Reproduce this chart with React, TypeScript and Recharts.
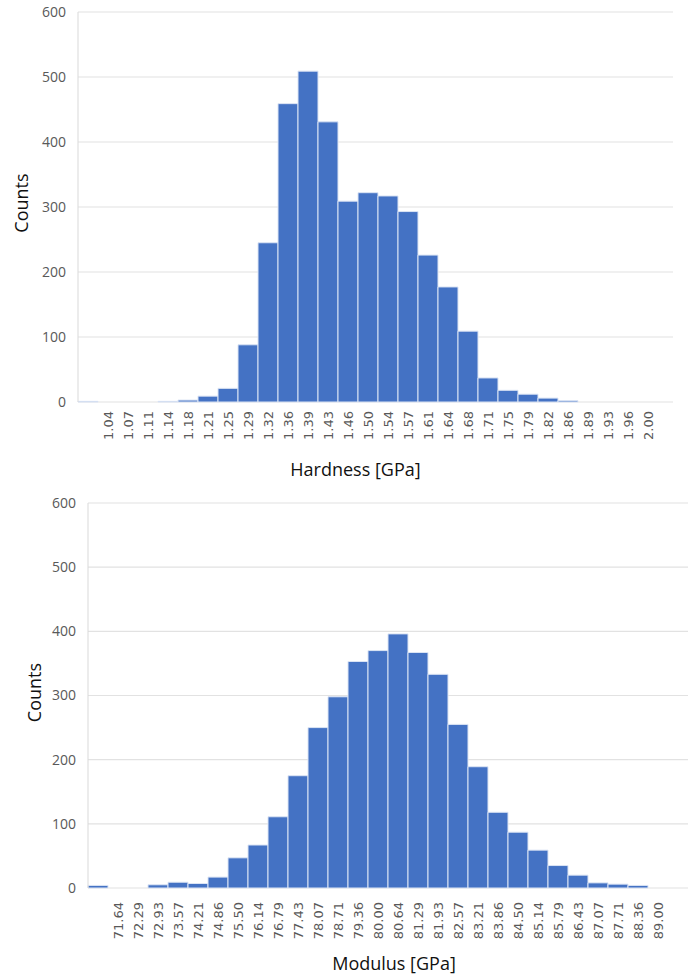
import { BarChart, Bar, XAxis, YAxis, CartesianGrid } from 'recharts';

// bin labels as printed under each bar (the first bin has no label)
const hardnessBins = ['', '1.04', '1.07', '1.11', '1.14', '1.18', '1.21', '1.25', '1.29', '1.32', '1.36', '1.39', '1.43', '1.46', '1.50', '1.54', '1.57', '1.61', '1.64', '1.68', '1.71', '1.75', '1.79', '1.82', '1.86', '1.89', '1.93', '1.96', '2.00'];
const hardnessCounts = [1, 0, 0, 0, 1, 3, 9, 21, 88, 245, 459, 509, 431, 309, 322, 317, 293, 226, 177, 109, 37, 18, 12, 6, 2, 0, 0, 0, 0];

const modulusBins = ['', '71.64', '72.29', '72.93', '73.57', '74.21', '74.86', '75.50', '76.14', '76.79', '77.43', '78.07', '78.71', '79.36', '80.00', '80.64', '81.29', '81.93', '82.57', '83.21', '83.86', '84.50', '85.14', '85.79', '86.43', '87.07', '87.71', '88.36', '89.00'];
const modulusCounts = [4, 0, 0, 5, 9, 7, 17, 47, 67, 111, 175, 250, 298, 353, 370, 396, 367, 333, 255, 189, 118, 87, 59, 35, 20, 8, 6, 4, 0];

const countTicks = [0, 100, 200, 300, 400, 500, 600];

const BAR = '#4472C4';
const GRID = '#e2e2e2';
const TICK = '#595959';

function BinTick({ x, y, payload, bins }: any) {
  return (
    <text
      x={x}
      y={y}
      transform={`rotate(-90, ${x}, ${y})`}
      textAnchor="end"
      dy="0.35em"
      fontFamily="DejaVu Sans"
      fontSize={13}
      fill={TICK}
    >
      {bins[Number(payload.value)]}
    </text>
  );
}

interface HistProps {
  bins: string[];
  counts: number[];
  title: string;
  width: number;
  height: number;
  top: number;
  axisWidth: number;
  axisHeight: number;
  right: number;
  padRight: number;
  binGap: number;
  titleDx: number;
  countsX: number;
  countsDy: number;
}

function Histogram(p: HistProps) {
  const data = p.bins.map((_, i) => ({ bin: `${i}`, count: p.counts[i] }));

  return (
    <BarChart
      width={p.width}
      height={p.height}
      data={data}
      barCategoryGap={0}
      margin={{ top: p.top, right: p.right, bottom: 0, left: 0 }}
    >
      <CartesianGrid vertical={false} stroke={GRID} strokeWidth={1.2} />
      <XAxis
        dataKey="bin"
        interval={0}
        axisLine={false}
        tickLine={false}
        height={p.axisHeight}
        padding={{ left: 0, right: p.padRight }}
        tickMargin={p.binGap}
        tick={(props: any) => <BinTick {...props} bins={p.bins} />}
        label={{
          content: ({ viewBox }: any) => (
            <text
              x={viewBox.x + viewBox.width / 2 + p.titleDx}
              y={viewBox.y + viewBox.height - 4}
              textAnchor="middle"
              fontFamily="Open Sans"
              fontSize={18}
              fill="#111"
            >
              {p.title}
            </text>
          ),
        }}
      />
      <YAxis
        width={p.axisWidth}
        domain={[0, 600]}
        ticks={countTicks}
        interval={0}
        tickLine={false}
        axisLine={{ stroke: '#d9d9d9' }}
        tickMargin={6}
        tick={{ fontFamily: 'Open Sans', fontSize: 14, fill: TICK }}
        label={{
          content: ({ viewBox }: any) => {
            const cx = p.countsX;
            const cy = viewBox.y + viewBox.height / 2 + p.countsDy;
            return (
              <text
                x={cx}
                y={cy}
                transform={`rotate(-90, ${cx}, ${cy})`}
                textAnchor="middle"
                dy="0.35em"
                fontFamily="Open Sans"
                fontSize={18}
                fill="#111"
              >
                Counts
              </text>
            );
          },
        }}
      />
      <Bar dataKey="count" fill={BAR} stroke="#dbe4f4" strokeWidth={1} isAnimationActive={false} />
    </BarChart>
  );
}

export default function App() {
  return (
    <div style={{ position: 'absolute', left: 0, top: 0, width: 692, height: 974, background: '#fff' }}>
      <div style={{ position: 'absolute', left: 0, top: 0 }}>
        <Histogram
          bins={hardnessBins}
          counts={hardnessCounts}
          title="Hardness [GPa]"
          width={692}
          height={480}
          top={12}
          axisWidth={78}
          axisHeight={78}
          right={19}
          padRight={15}
          binGap={3}
          titleDx={-20}
          countsX={22}
          countsDy={-4}
        />
      </div>
      <div style={{ position: 'absolute', left: 0, top: 480 }}>
        <Histogram
          bins={modulusBins}
          counts={modulusCounts}
          title="Modulus [GPa]"
          width={692}
          height={494}
          top={23}
          axisWidth={88}
          axisHeight={86}
          right={4}
          padRight={20}
          binGap={8}
          titleDx={6}
          countsX={35}
          countsDy={-3}
        />
      </div>
    </div>
  );
}
